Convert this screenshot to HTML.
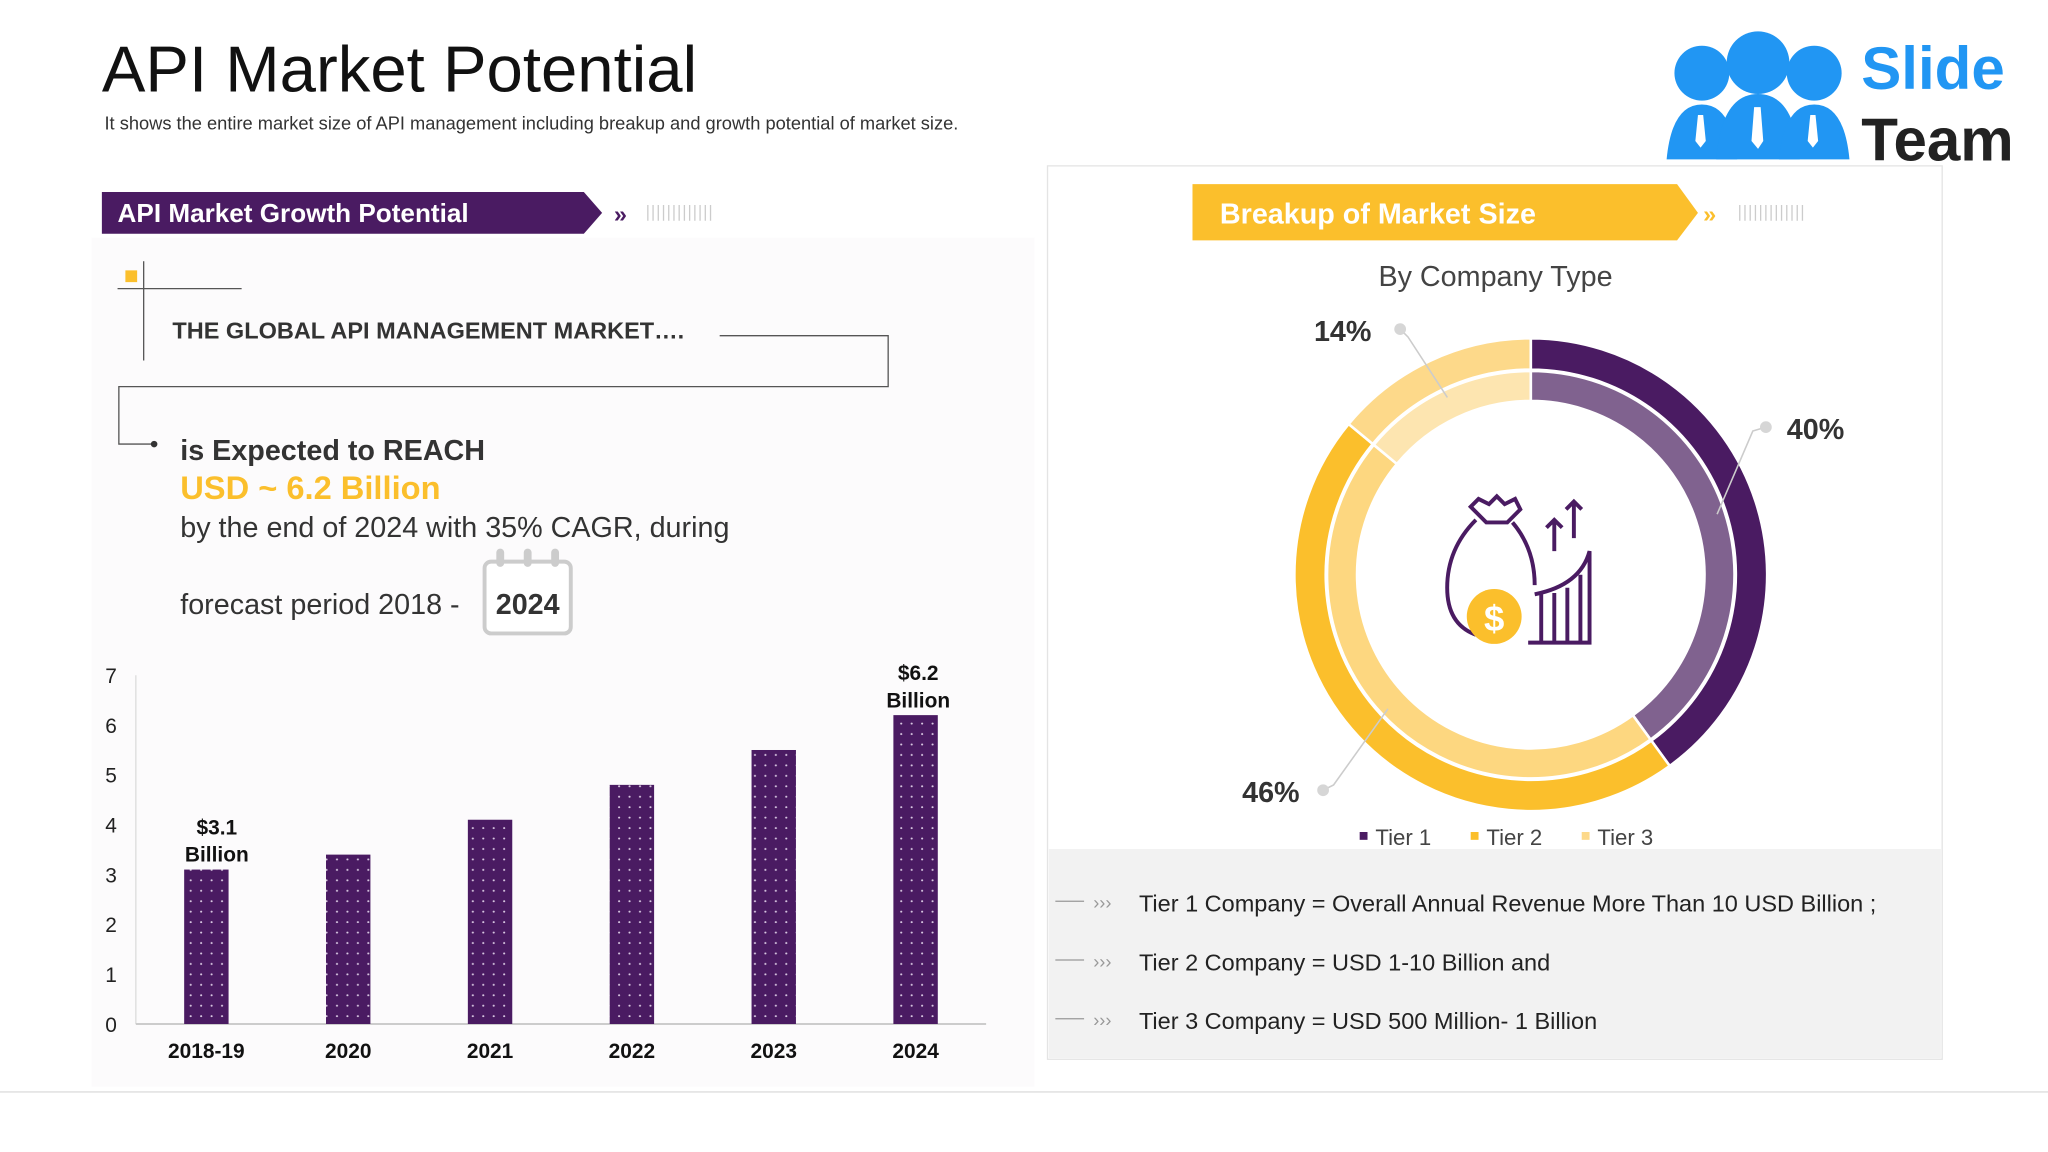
<!DOCTYPE html>
<html><head><meta charset="utf-8">
<style>
html,body{margin:0;padding:0;background:#fff;}
svg{display:block;}
text{font-family:"Liberation Sans",sans-serif;}
</style></head>
<body>
<svg id="root" width="2048" height="1152" viewBox="0 0 1568 882" xmlns="http://www.w3.org/2000/svg">
<defs>
<pattern id="dots" width="8" height="8" patternUnits="userSpaceOnUse">
<rect width="8" height="8" fill="#4a1b62"/><circle cx="2" cy="2" r="0.8" fill="#d9c9e2"/>
</pattern>
</defs>
<rect width="1568" height="882" fill="#fff"/>
<rect x="70" y="182" width="722" height="650" fill="#fcfbfc"/>
<line x1="0" y1="836" x2="1568" y2="836" stroke="#ddd" stroke-width="1"/>

<text x="78" y="70" font-size="50" fill="#111">API Market Potential</text>
<text x="80" y="99" font-size="14" fill="#333">It shows the entire market size of API management including breakup and growth potential of market size.</text>

<g>
<circle cx="1303" cy="56" r="21" fill="#2196f3"/><circle cx="1346" cy="48" r="24" fill="#2196f3"/><circle cx="1389" cy="56" r="21" fill="#2196f3"/>
<path d="M1276 122 Q1280 80 1303 80 Q1326 80 1330 122Z" fill="#2196f3"/>
<path d="M1314 122 Q1318 72 1346 72 Q1374 72 1378 122Z" fill="#2196f3"/>
<path d="M1362 122 Q1366 80 1389 80 Q1412 80 1416 122Z" fill="#2196f3"/>
<path d="M1300 88 l4 0 l2 20 l-4 5 l-4 -5Z M1343 82 l5 0 l2 26 l-4 6 l-5 -6Z M1386 88 l4 0 l2 20 l-4 5 l-4 -5Z" fill="#fff"/>
<text x="1425" y="68" font-size="46" font-weight="bold" fill="#2196f3">Slide</text>
<text x="1425" y="123" font-size="46" font-weight="bold" fill="#222">Team</text>
</g>

<!-- Left banner -->
<g>
<path d="M78 147 L447 147 L461 163 L447 179 L78 179Z" fill="#4a1b62"/>
<text x="90" y="170" font-size="20" font-weight="bold" fill="#fff">API Market Growth Potential</text>
<text x="470" y="170" font-size="18" font-weight="bold" fill="#4a1b62">»</text>
<path d="M496 157v12M500 157v12M504 157v12M508 157v12M512 157v12M516 157v12M520 157v12M524 157v12M528 157v12M532 157v12M536 157v12M540 157v12M544 157v12" stroke="#ccc" stroke-width="1"/>
</g>

<g>
<rect x="96" y="207" width="9" height="9" fill="#fbbf2c"/>
<line x1="110" y1="200" x2="110" y2="276" stroke="#555" stroke-width="1"/>
<line x1="90" y1="221" x2="185" y2="221" stroke="#555" stroke-width="1"/>
<text x="132" y="259" font-size="18" font-weight="bold" fill="#333">THE GLOBAL API MANAGEMENT MARKET….</text>
<path d="M551 257 H680 V296 H91 V340 H118" fill="none" stroke="#555" stroke-width="1"/>
<circle cx="118" cy="340" r="2.5" fill="#333"/>
<text x="138" y="352" font-size="22" font-weight="bold" fill="#333">is Expected to REACH</text>
<text x="138" y="382" font-size="25" font-weight="bold" fill="#fbbf2c">USD ~ 6.2 Billion</text>
<text x="138" y="411" font-size="22" fill="#333">by the end of 2024 with 35% CAGR, during</text>
<text x="138" y="470" font-size="22" fill="#333">forecast period 2018  -</text>
<rect x="371" y="430" width="66" height="55" rx="5" fill="#fff" stroke="#ccc" stroke-width="3"/>
<rect x="380" y="420" width="6" height="14" rx="3" fill="#ccc"/><rect x="401" y="420" width="6" height="14" rx="3" fill="#ccc"/><rect x="422" y="420" width="6" height="14" rx="3" fill="#ccc"/>
<text x="404" y="470" font-size="22" font-weight="bold" fill="#333" text-anchor="middle">2024</text>
</g>

<g id="barchart"></g>

<!-- Right panel -->
<rect x="802" y="127" width="685" height="684" fill="#fff" stroke="#e4e4e4"/>
<rect x="803" y="650" width="683" height="160" fill="#f2f2f2"/>
<g>
<path d="M913 141 L1284 141 L1300 163 L1284 184 L913 184Z" fill="#fbbf2c"/>
<text x="934" y="171" font-size="22" font-weight="bold" fill="#fff">Breakup of  Market Size</text>
<text x="1304" y="170" font-size="18" font-weight="bold" fill="#fbbf2c">»</text>
<path d="M1332 157v12M1336 157v12M1340 157v12M1344 157v12M1348 157v12M1352 157v12M1356 157v12M1360 157v12M1364 157v12M1368 157v12M1372 157v12M1376 157v12M1380 157v12" stroke="#ccc" stroke-width="1"/>
</g>
<text x="1145" y="219" font-size="22" fill="#444" text-anchor="middle">By Company Type</text>
<g id="donut"></g>

<g fill="none" stroke="#4a1b62" stroke-width="3">
<path d="M1130 398 Q1108 420 1108 450 Q1108 478 1130 486"/>
<path d="M1138 400 l-12 -12 l6 -6 l8 4 l6 -6 l6 6 l8 -4 l4 8 l-10 10Z"/>
<path d="M1158 400 Q1175 420 1175 448"/>
<path d="M1170 492 H1217 V422 Q1210 448 1175 455"/>
<path d="M1180 455v37M1190 454v38M1200 450v42M1210 440v52"/>
<path d="M1190 422v-24 M1184 404l6-6 6 6 M1205 412v-28 M1199 390l6-6 6 6"/>
<circle cx="1144" cy="472" r="21" fill="#fbbf2c" stroke="none"/>
<text x="1144" y="483" font-size="28" font-weight="bold" fill="#fff" stroke="none" text-anchor="middle">$</text>
</g>

<g>
<rect x="1041" y="637" width="6" height="6" fill="#4a1b62"/><text x="1053" y="647" font-size="17" fill="#444">Tier 1</text>
<rect x="1126" y="637" width="6" height="6" fill="#fbbf2c"/><text x="1138" y="647" font-size="17" fill="#444">Tier 2</text>
<rect x="1211" y="637" width="6" height="6" fill="#fdd98a"/><text x="1223" y="647" font-size="17" fill="#444">Tier 3</text>
</g>

<g font-size="18" fill="#222">
<line x1="808" y1="690" x2="830" y2="690" stroke="#999"/><text x="837" y="696" font-size="14" fill="#999">›››</text>
<text x="872" y="698">Tier 1 Company = Overall Annual Revenue More Than 10 USD Billion ;</text>
<line x1="808" y1="735" x2="830" y2="735" stroke="#999"/><text x="837" y="741" font-size="14" fill="#999">›››</text>
<text x="872" y="743">Tier 2 Company = USD 1-10 Billion and</text>
<line x1="808" y1="780" x2="830" y2="780" stroke="#999"/><text x="837" y="786" font-size="14" fill="#999">›››</text>
<text x="872" y="788">Tier 3 Company = USD 500 Million- 1 Billion</text>
</g>
</svg>

<script>
const NS = "http://www.w3.org/2000/svg";
const categories = ["2018-19","2020","2021","2022","2023","2024"];
const values = [3.1,3.4,4.1,4.8,5.5,6.2];
const yTicks = [0,1,2,3,4,5,6,7];
const tierNames = ["Tier 1","Tier 2","Tier 3"];
const tierShares = [40,46,14];
const tierLabels = ["40%","46%","14%"];

function mk(tag, attrs, parent){const e=document.createElementNS(NS,tag);for(const k in attrs)e.setAttribute(k,attrs[k]);parent.appendChild(e);return e;}

// Bar chart
const bc = document.getElementById('barchart');
const X0=104, X1=755, Y0=784, Y7=517, yMax=7;
const yScale = v => Y0 - (v/yMax)*(Y0-Y7);
const band = 108.6, firstC = 158;
const xScale = i => firstC + i*band;
const axis = mk('line',{x1:X0,y1:Y7,x2:X0,y2:Y0,stroke:'#ddd'},bc);


const xaxis = mk('line',{x1:X0,y1:Y0,x2:X1,y2:Y0,stroke:'#ccc','stroke-width':1.5},bc);


yTicks.forEach(t=>{
  const tx = mk('text',{x:85,y:yScale(t)+6,'font-size':16,fill:'#222','text-anchor':'middle'},bc);
  tx.textContent=t;
  
  
});
categories.forEach((c,i)=>{
  const v=values[i], x=xScale(i), w=34;
  const r = mk('rect',{x:x-w/2,y:yScale(v),width:w,height:Y0-yScale(v),fill:'url(#dots)'},bc);
  
  
  const lb = mk('text',{x:x,y:810,'font-size':16,'font-weight':'bold',fill:'#111','text-anchor':'middle'},bc);
  lb.textContent=c;
  
  
  if(i===0||i===categories.length-1){
    const top=yScale(v);
    const a = mk('text',{x:x+(i===0?8:2),y:top-27,'font-size':16,'font-weight':'bold',fill:'#111','text-anchor':'middle'},bc);
    a.textContent='$'+v.toFixed(1);
    
    
    const b = mk('text',{x:x+(i===0?8:2),y:top-6,'font-size':16,'font-weight':'bold',fill:'#111','text-anchor':'middle'},bc);
    b.textContent='Billion';
    
    
  }
});

// Donut
const dn = document.getElementById('donut');
const CX=1172, CY=440;
const outerCols=['#4a1b62','#fbbf2c','#fdd98a'];
const innerCols=['#80628f','#fdd780','#fde5b0'];
function pt(r,a){const rad=(a-90)*Math.PI/180;return [CX+r*Math.cos(rad),CY+r*Math.sin(rad)];}
function arcPath(r0,r1,a0,a1){
  const large=(a1-a0)>180?1:0;
  const p1=pt(r1,a0),p2=pt(r1,a1),p3=pt(r0,a1),p4=pt(r0,a0);
  return `M${p1[0]} ${p1[1]} A${r1} ${r1} 0 ${large} 1 ${p2[0]} ${p2[1]} L${p3[0]} ${p3[1]} A${r0} ${r0} 0 ${large} 0 ${p4[0]} ${p4[1]}Z`;
}
const total = tierShares.reduce((a,b)=>a+b,0);
let acc=0;
const mids=[];
tierShares.forEach((s,i)=>{
  const a0=acc/total*360, a1=(acc+s)/total*360; acc+=s;
  mids.push((a0+a1)/2);
  const o = mk('path',{d:arcPath(157,181,a0,a1),fill:outerCols[i],stroke:'#fff','stroke-width':2},dn);
  
  
  const n = mk('path',{d:arcPath(133,156,a0,a1),fill:innerCols[i],stroke:'#fff','stroke-width':2},dn);
  
  
});
// labels: positions per tier
const labelPos=[[1391,336,'start',1352,327],[973,614,'middle',1013,605],[1028,261,'middle',1072,252]];
tierShares.forEach((s,i)=>{
  const [lx,ly,anc,dx,dy]=labelPos[i];
  const m=pt(150,mids[i]);
  const ln = mk('polyline',{points:`${dx},${dy} ${dx+(i===0?-10:(i===1?8:6))},${dy+(i===2?6:(i===0?3:-4))} ${m[0]},${m[1]}`,fill:'none',stroke:'#ccc','stroke-width':1.2},dn);
  
  
  const d = mk('circle',{cx:dx,cy:dy,r:4.5,fill:'#d6d6d6'},dn);
  
  
  const t = mk('text',{x:i===0?1368:lx,y:ly,'font-size':22,'font-weight':'bold',fill:'#333','text-anchor':anc},dn);
  t.textContent=tierLabels[i];
  
  
});
</script>
</body></html>
